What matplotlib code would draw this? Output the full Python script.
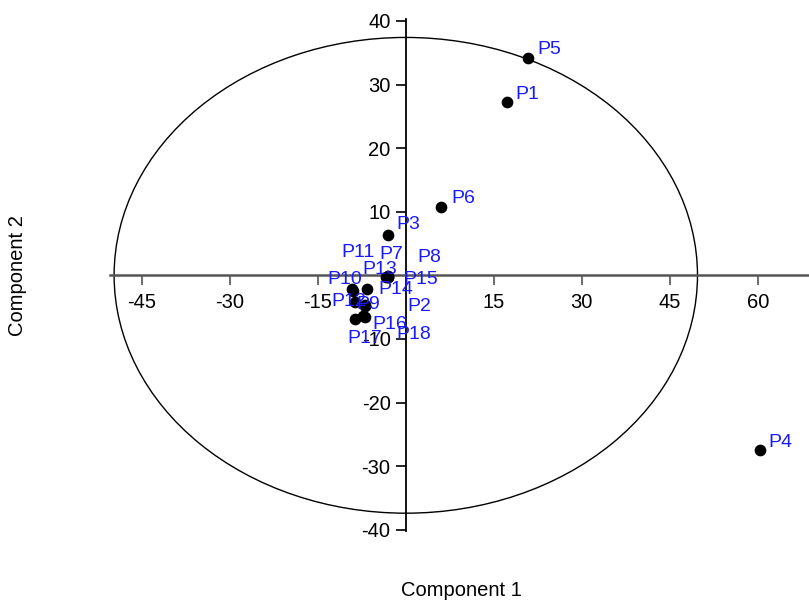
import numpy as np
import matplotlib.pyplot as plt
from matplotlib.patches import Ellipse

plt.rcParams['font.family'] = ['Liberation Sans', 'DejaVu Sans']
plt.rcParams['axes.unicode_minus'] = False

# scores on the first two components
names = ["P1", "P2", "P3", "P4", "P5", "P6", "P7", "P8", "P9",
         "P10", "P11", "P12", "P13", "P14", "P15", "P16", "P17", "P18"]
comp1 = [17.2, -7.0, -3.1, 60.3, 20.8, 6.0, -3.4, -3.0, -7.0,
         -9.0, -9.2, -8.7, -3.1, -6.6, -3.0, -7.3, -8.7, -7.0]
comp2 = [27.3, -4.6, 6.3, -27.5, 34.1, 10.8, -0.3, -0.1, -4.9,
         -2.5, -2.2, -4.2, -0.2, -2.2, -0.3, -6.4, -6.9, -6.6]

# confidence ellipse half axes
ell_a, ell_b = 49.7, 37.4

# label offsets in pixels (dx, dy), labels are crowded near the origin
lab_off = {"P1": (9, 7), "P3": (9, 11), "P4": (9, 8), "P5": (10, 9), "P6": (10, 8),
           "P11": (-10, 37), "P7": (-6, 23), "P8": (29, 18), "P13": (-25, 7),
           "P10": (-26, 12), "P15": (15, -2), "P14": (11, 0), "P12": (-23, 1),
           "P9": (-8, 2), "P2": (43, -2), "P16": (9, -8), "P18": (32, -17),
           "P17": (-7, -19)}

fig = plt.figure(figsize=(8.09, 6.04), dpi=100)
ax = fig.add_axes([110 / 809, 73 / 604, 699 / 809, 512 / 604])
ax.set_xlim(-50.4, 68.7)
ax.set_ylim(-40.2, 40.3)

ax.add_patch(Ellipse((0, 0), 2 * ell_a, 2 * ell_b, fill=False, ec='black', lw=1.0))

ax.scatter(comp1, comp2, s=55, color='black', zorder=3)
for n, x, y in zip(names, comp1, comp2):
    dx, dy = lab_off[n]
    ax.annotate(n, (x, y), xytext=(dx, dy), textcoords='offset pixels',
                ha='left', va='center', color='#1a1aff', fontsize=14, zorder=4)

for s in ['top', 'right']:
    ax.spines[s].set_visible(False)
ax.spines['left'].set_position(('data', 0))
ax.spines['bottom'].set_position(('data', 0))
ax.spines['bottom'].set_color('#555555')
ax.spines['bottom'].set_linewidth(1.8)
ax.spines['left'].set_linewidth(1.3)

ax.set_xticks([-45, -30, -15, 15, 30, 45, 60])
ax.set_yticks([-40, -30, -20, -10, 10, 20, 30, 40])
ax.tick_params(axis='x', direction='out', length=7.5, width=1.2, pad=5,
               labelsize=14.5, colors='#555555', labelcolor='black')
ax.tick_params(axis='y', direction='out', length=7.5, width=1.2, pad=3.5, labelsize=14.5)

fig.text(461 / 809, 1 - 591 / 604, "Component 1", ha='center', va='center', fontsize=14.5)
fig.text(18 / 809, 1 - 276 / 604, "Component 2", ha='center', va='center',
         rotation=90, fontsize=14.5)

fig.savefig("out.png", dpi=100)
